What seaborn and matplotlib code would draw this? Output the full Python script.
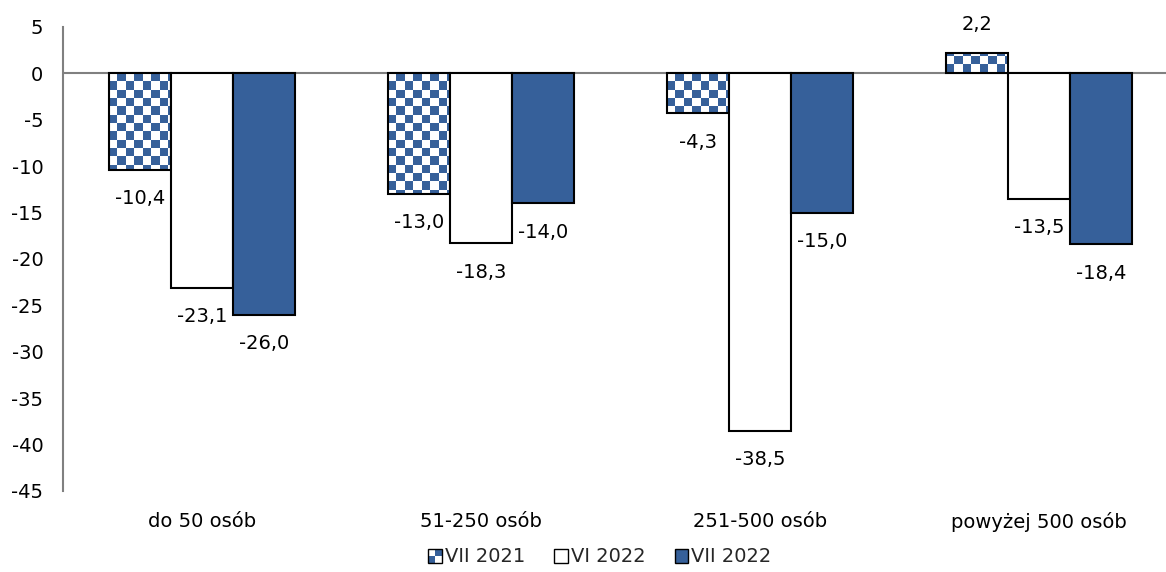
import numpy as np
import pandas as pd
import matplotlib
matplotlib.use("Agg")
import matplotlib.pyplot as plt
import seaborn as sns
from matplotlib.patches import Rectangle, Patch
from matplotlib.colors import ListedColormap
from matplotlib.legend_handler import HandlerBase

categories = ["do 50 osób", "51-250 osób", "251-500 osób", "powyżej 500 osób"]
series = ["VII 2021", "VI 2022", "VII 2022"]
vii_2021 = [-10.4, -13.0, -4.3, 2.2]
vi_2022 = [-23.1, -18.3, -38.5, -13.5]
vii_2022 = [-26.0, -14.0, -15.0, -18.4]
yticks = [-45, -40, -35, -30, -25, -20, -15, -10, -5, 0, 5]

BLUE = "#36609A"
GRAY = "#808080"
FS = 14

sns.set_theme(style="white")
plt.rcParams["font.family"] = ["DejaVu Sans"]
plt.rcParams["axes.unicode_minus"] = False

rows = []
for s, vals in zip(series, [vii_2021, vi_2022, vii_2022]):
    for c, v in zip(categories, vals):
        rows.append({"cat": c, "val": v, "series": s})
df = pd.DataFrame(rows)

W, H = 1166, 572
fig = plt.figure(figsize=(W / 100, H / 100), dpi=100)
ax = fig.add_axes([62.7 / W, 81 / H, 1116 / W, 464 / H])

sns.barplot(data=df, x="cat", y="val", hue="series", hue_order=series,
            order=categories, palette=["white", "white", BLUE], saturation=1,
            width=0.667, edgecolor="black", linewidth=1.5, ax=ax,
            legend=False, errorbar=None)

ax.set_xlim(-0.5, 3.5)
ax.set_ylim(-45, 5)

# checker pattern for the first series, drawn inside the seaborn bars
cell_px = 8.3
ox, oy = ax.transData.transform((0, 0))
dx = abs(ax.transData.inverted().transform((ox + cell_px, oy))[0])
dy = abs(ax.transData.inverted().transform((ox, oy + cell_px))[1])
cmap = ListedColormap(["white", BLUE])
for patch in ax.containers[0]:
    x0 = patch.get_x()
    w = patch.get_width()
    h = patch.get_height()
    nx = int(np.ceil(w / dx)) + 1
    ny = int(np.ceil(abs(h) / dy)) + 1
    ii, jj = np.indices((ny, nx))
    arr = ((ii + jj) % 2).astype(float)
    if h < 0:
        ext = [x0, x0 + nx * dx, -ny * dy, 0]
    else:
        ext = [x0, x0 + nx * dx, 0, ny * dy]
    im = ax.imshow(arr, cmap=cmap, extent=ext, origin="upper",
                   interpolation="nearest", aspect="auto",
                   zorder=patch.get_zorder() - 0.05, vmin=0, vmax=1)
    im.set_clip_path(patch)
    patch.set_facecolor("none")

ax.set_xlim(-0.5, 3.5)
ax.set_ylim(-45, 5)
ax.set_aspect("auto")

ax.axhline(0, color=GRAY, lw=1.5, zorder=0.5)

for cont, vals in zip(ax.containers, [vii_2021, vi_2022, vii_2022]):
    labels = [f"{v:.1f}".replace(".", ",") for v in vals]
    ax.bar_label(cont, labels=labels, padding=14, fontsize=FS, color="black")

ax.set_yticks(yticks)
ax.set_yticklabels([str(t) for t in yticks])
ax.set_xlabel("")
ax.set_ylabel("")
ax.tick_params(axis="y", length=0, pad=14, labelsize=FS, colors="black")
ax.tick_params(axis="x", length=0, pad=15, labelsize=FS, colors="black")
for sp in ["top", "right", "bottom"]:
    ax.spines[sp].set_visible(False)
ax.spines["left"].set_color(GRAY)
ax.spines["left"].set_linewidth(1.5)
ax.grid(False)


class CheckerHandler(HandlerBase):
    def create_artists(self, legend, orig_handle, xdescent, ydescent,
                       width, height, fontsize, trans):
        s = height
        x0 = -xdescent + (width - s) / 2
        y0 = -ydescent
        arts = []
        half = s / 2
        for i in range(2):
            for j in range(2):
                col = BLUE if (i + j) % 2 == 0 else "white"
                arts.append(Rectangle((x0 + i * half, y0 + j * half), half, half,
                                      facecolor=col, edgecolor="none",
                                      transform=trans))
        arts.append(Rectangle((x0, y0), s, s, facecolor="none",
                              edgecolor="black", lw=1.0, transform=trans))
        return arts


class SquareHandler(HandlerBase):
    def create_artists(self, legend, orig_handle, xdescent, ydescent,
                       width, height, fontsize, trans):
        s = height
        x0 = -xdescent + (width - s) / 2
        y0 = -ydescent
        return [Rectangle((x0, y0), s, s, facecolor=orig_handle.get_facecolor(),
                          edgecolor="black", lw=1.0, transform=trans)]


h1 = Patch(facecolor="white", edgecolor="black", label=series[0])
h2 = Patch(facecolor="white", edgecolor="black", label=series[1])
h3 = Patch(facecolor=BLUE, edgecolor="black", label=series[2])
fig.legend([h1, h2, h3], series, loc="center",
           bbox_to_anchor=(600 / W, 1 - 557 / H), ncol=3, frameon=False,
           fontsize=FS, handlelength=0.7, handleheight=0.7,
           handletextpad=0.15, columnspacing=1.5,
           handler_map={h1: CheckerHandler(), h2: SquareHandler(),
                        h3: SquareHandler()})

fig.savefig("out.png", dpi=100)
